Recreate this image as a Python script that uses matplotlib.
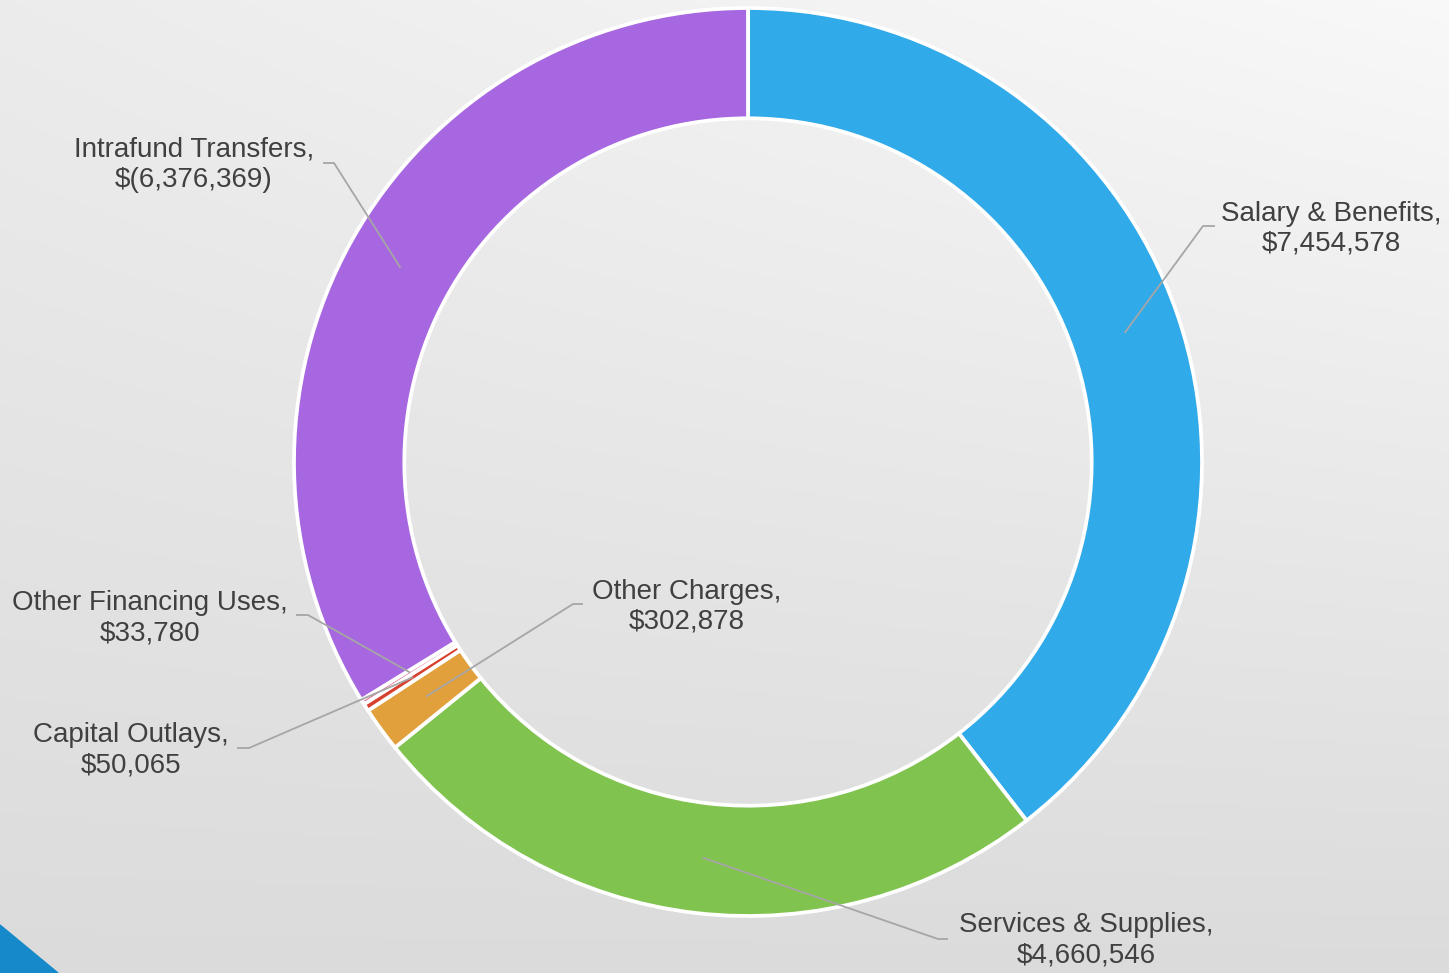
import numpy as np
import matplotlib
matplotlib.use("Agg")
import matplotlib.pyplot as plt
from matplotlib.patches import Polygon

# budget categories (clockwise from 12 o'clock)
categories = ["Salary & Benefits", "Services & Supplies", "Other Charges",
              "Capital Outlays", "Other Financing Uses", "Intrafund Transfers"]
amounts = [7454578, 4660546, 302878, 50065, 33780, 6376369]
value_labels = ["$7,454,578", "$4,660,546", "$302,878",
                "$50,065", "$33,780", "$(6,376,369)"]
colors = ["#31AAEA", "#81C34F", "#E2A03C", "#D8412F", "#E5739A", "#A667E0"]

W, H = 1449, 973
cx, cy, R = 748, 462, 454   # pie centre / radius in pixels

fig = plt.figure(figsize=(W / 100, H / 100), dpi=100)

# background gradient: light at the top (lightest top-right), grey at the bottom
bg = fig.add_axes([0, 0, 1, 1])
gx, gy = np.meshgrid(np.linspace(0, 1, 300), np.linspace(0, 1, 200))
grad = 0.86 + gy * (0.065 + 0.05 * gx)
bg.imshow(np.dstack([grad, grad, grad]), extent=[0, 1, 0, 1], aspect="auto",
          origin="lower")
bg.add_patch(Polygon([[0, 0], [0, 48 / H], [58 / W, 0]], closed=True,
                     color="#1589C9"))
bg.set_xlim(0, 1)
bg.set_ylim(0, 1)
bg.axis("off")

# main axes, 1 data unit = R pixels
ax = fig.add_axes([0, 0, 1, 1])
wedges, _ = ax.pie(amounts, colors=colors, startangle=90, counterclock=False,
                   radius=1.0,
                   wedgeprops=dict(width=0.243, edgecolor="white", linewidth=2.7))
ax.set_xlim(-cx / R, (W - cx) / R)
ax.set_ylim(-(H - cy) / R, cy / R)
ax.set_aspect("equal")
ax.axis("off")


def px(x, y):
    return (x - cx) / R, (cy - y) / R


# label text centre, elbow start (at text), elbow end
label_layout = {
    "Salary & Benefits": ((1331, 229), (1215, 226), (1203, 226)),
    "Services & Supplies": ((1086, 940), (948, 939), (938, 939)),
    "Other Charges": ((687, 607), (583, 604), (573, 604)),
    "Capital Outlays": ((131, 750), (237, 748), (249, 748)),
    "Other Financing Uses": ((150, 618), (296, 615), (308, 615)),
    "Intrafund Transfers": ((194, 165), (323, 163), (334, 163)),
}

total = sum(amounts)
start = 90.0
r = 0.877
for name, val, lab in zip(categories, amounts, value_labels):
    span = 360.0 * val / total
    mid = np.deg2rad(start - span / 2)
    start -= span
    (tx, ty), e1, e2 = label_layout[name]
    p = (r * np.cos(mid), r * np.sin(mid))
    a, b = px(*e1), px(*e2)
    ax.plot([a[0], b[0], p[0]], [a[1], b[1], p[1]], color="#A6A6A6", lw=1.3,
            solid_capstyle="butt", zorder=5)
    ax.text(*px(tx, ty), f"{name},\n{lab}", ha="center", va="center",
            fontsize=20, color="#404040", family="Liberation Sans",
            linespacing=1.2, zorder=6)

fig.savefig("out.png", dpi=100)
